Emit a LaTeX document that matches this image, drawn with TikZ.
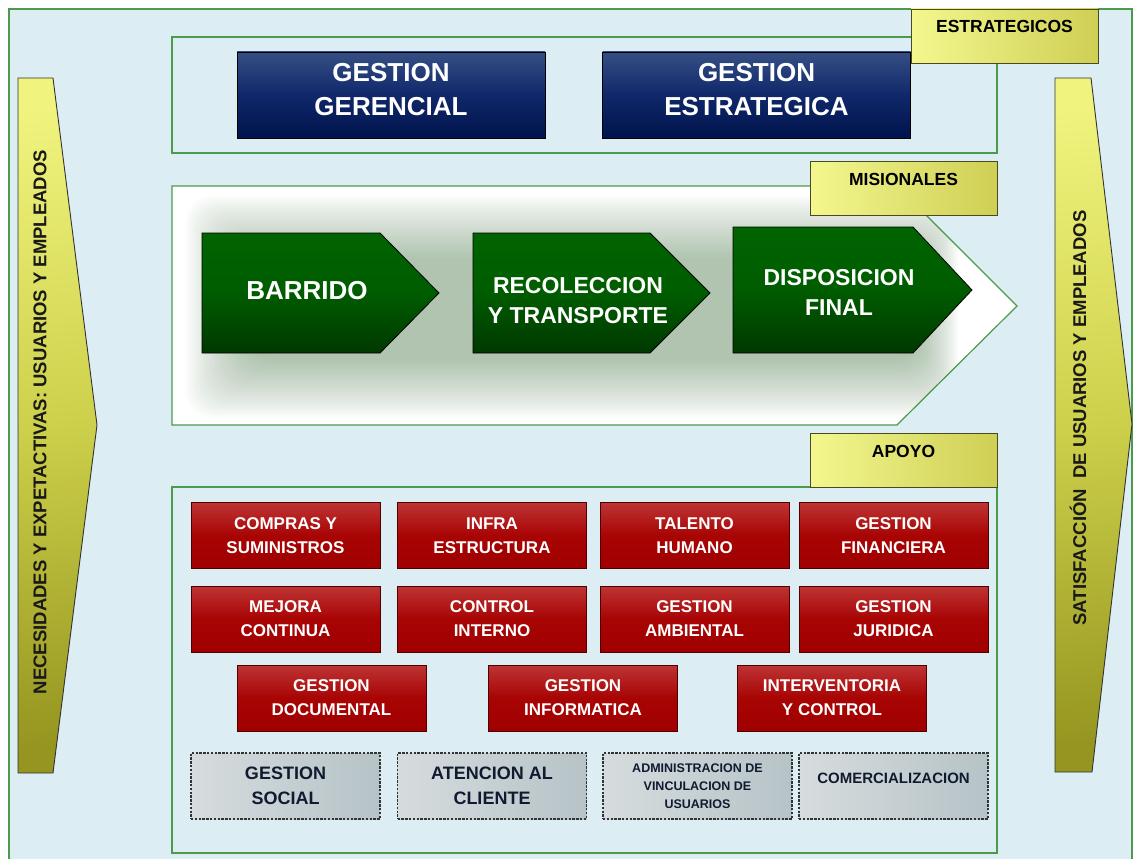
\documentclass[tikz,border=0pt]{standalone}
\usepackage{fontspec}
\setmainfont{Liberation Sans}

\definecolor{paleblue}{HTML}{DCEEF4}
\definecolor{framegreen}{HTML}{4C9A4C}
\definecolor{tagL}{HTML}{F3F78E}
\definecolor{tagR}{HTML}{CFCF55}
\definecolor{tagline}{HTML}{4A4A20}
\definecolor{arrowL}{HTML}{F0F47E}
\definecolor{arrowM}{HTML}{CDD04A}
\definecolor{arrowR}{HTML}{959520}
\definecolor{navyT}{HTML}{354F85}
\definecolor{navyM}{HTML}{10286A}
\definecolor{navyB}{HTML}{00134C}
\definecolor{chevT}{HTML}{006400}
\definecolor{chevM}{HTML}{005C00}
\definecolor{chevB}{HTML}{003800}
\definecolor{redT}{HTML}{BE3434}
\definecolor{redM}{HTML}{A80404}
\definecolor{redB}{HTML}{A00000}
\definecolor{greyL}{HTML}{D6DCDE}
\definecolor{greyR}{HTML}{B6C3C7}
\definecolor{haze}{HTML}{4F7F4F}
\definecolor{inkblue}{HTML}{101A30}

\begin{document}
\begin{tikzpicture}[x=1pt, y=-1pt,
  frame/.style={draw=framegreen, line width=1.2pt},
  sidearrow/.style={draw=black!80, line width=0.9pt, top color=arrowL, bottom color=arrowR,
    middle color=arrowM, shading angle=6},
  sidetext/.style={rotate=90, font=\bfseries\fontsize{18.5}{20}\selectfont, text=black!90},
  tag/.style={draw=tagline, line width=0.9pt, left color=tagL, right color=tagR,
    minimum width=187pt, minimum height=54pt, text height=12pt, text depth=18pt,
    font=\bfseries\fontsize{17.5}{20}\selectfont},
  navybox/.style={draw=black, line width=0.8pt, top color=navyT, bottom color=navyB,
    middle color=navyM, minimum width=308pt, minimum height=86pt},
  navytext/.style={text=white, align=center, font=\bfseries\fontsize{26}{34}\selectfont},
  chevron/.style={draw=black, line width=0.8pt, top color=chevT, bottom color=chevB, middle color=chevM},
  chevtext/.style={text=white, align=center, font=\bfseries\fontsize{23}{30}\selectfont},
  redbox/.style={draw=black!70!red, line width=0.8pt, top color=redT, bottom color=redB,
    middle color=redM, minimum width=189pt, minimum height=66pt, text=white, align=center,
    font=\bfseries\fontsize{17}{24}\selectfont},
  greybox/.style={draw=black!80, line width=1.2pt, dash pattern=on 2.4pt off 1.4pt,
    left color=greyL, right color=greyR, minimum width=189pt, minimum height=66pt,
    text=inkblue, align=center, font=\bfseries\fontsize{18}{25}\selectfont}]

\useasboundingbox (0,0) rectangle (1133,859);
\begin{scope}
  \clip (0,0) rectangle (1133,859);
  \fill[white] (0,0) rectangle (1133,859);
  \draw[frame, fill=paleblue] (9,9) rectangle (1132,875);
\end{scope}

% side arrows
\path[sidearrow] (18,78) -- (53,78) -- (97,425) -- (53,773) -- (18,773) -- cycle;
\node[sidetext] (needs) at (40,422) {NECESIDADES Y EXPETACTIVAS: USUARIOS Y EMPLEADOS};
\path[sidearrow] (1055,78) -- (1091,78) -- (1132,424) -- (1092,772) -- (1055,772) -- cycle;
\node[sidetext] (satisf) at (1078,418) {SATISFACCIÓN\ \ DE USUARIOS Y EMPLEADOS};

% estrategicos
\draw[frame] (172,37) rectangle (997,153);
\node[navybox] (gerencial) at (391,95) {};
\node[navytext] at ([yshift=5pt]gerencial.center) {GESTION\\GERENCIAL};
\node[navybox] (estrategica) at (756.5,95) {};
\node[navytext] at ([yshift=5pt]estrategica.center) {GESTION\\ESTRATEGICA};
\node[tag] (tagestr) at (1004.5,36) {ESTRATEGICOS};

% misionales
\draw[frame, fill=white] (172,186) -- (897,186) -- (1017,306) -- (897,425) -- (172,425) -- cycle;
\begin{scope}
  \clip (172,186) -- (897,186) -- (1017,306) -- (897,425) -- (172,425) -- cycle;
  \foreach \g in {0,...,24}
    \fill[haze, opacity=0.018, rounded corners=26pt] (248-2.6*\g,258-2.6*\g) rectangle (920+1.6*\g,360+2.4*\g);
\end{scope}
\draw[chevron] (202,233) -- (380,233) -- (439,293) -- (380,353) -- (202,353) -- cycle;
\node[chevtext, font=\bfseries\fontsize{26}{30}\selectfont] (barrido) at (307,291) {BARRIDO};
\draw[chevron] (473,233) -- (650,233) -- (710,293) -- (650,353) -- (473,353) -- cycle;
\node[chevtext] (recoleccion) at (578,301) {RECOLECCION\\Y TRANSPORTE};
\draw[chevron] (733,227) -- (913,227) -- (972,290) -- (913,353) -- (733,353) -- cycle;
\node[chevtext] (disposicion) at (839,292) {DISPOSICION\\FINAL};
\node[tag] (tagmis) at (903.5,188.5) {MISIONALES};

% apoyo
\draw[frame] (172,487) rectangle (997,853);
\node[tag] (tagapoyo) at (903.5,460) {APOYO};

\node[redbox] (compras) at (285.5,535.5) {COMPRAS Y\\SUMINISTROS};
\node[redbox] (infra) at (492,535.5) {INFRA\\ESTRUCTURA};
\node[redbox] (talento) at (694.5,535.5) {TALENTO\\HUMANO};
\node[redbox] (financiera) at (893.5,535.5) {GESTION\\FINANCIERA};

\node[redbox] (mejora) at (285.5,619) {MEJORA\\CONTINUA};
\node[redbox] (interno) at (492,619) {CONTROL\\INTERNO};
\node[redbox] (ambiental) at (694.5,619) {GESTION\\AMBIENTAL};
\node[redbox] (juridica) at (893.5,619) {GESTION\\JURIDICA};

\node[redbox] (documental) at (331.5,698) {GESTION\\DOCUMENTAL};
\node[redbox] (informatica) at (583,698) {GESTION\\INFORMATICA};
\node[redbox] (interventoria) at (832,698) {INTERVENTORIA\\Y CONTROL};

\node[greybox] (social) at (285.5,786) {GESTION\\SOCIAL};
\node[greybox] (cliente) at (492,786) {ATENCION AL\\CLIENTE};
\node[greybox, font=\bfseries\fontsize{12.5}{18}\selectfont] (vinculacion) at (697.5,786)
  {ADMINISTRACION DE\\VINCULACION DE\\USUARIOS};
\node[greybox, font=\bfseries\fontsize{15}{18}\selectfont, text height=11pt, text depth=17pt]
  (comercial) at (893.5,786) {COMERCIALIZACION};
\end{tikzpicture}
\end{document}
